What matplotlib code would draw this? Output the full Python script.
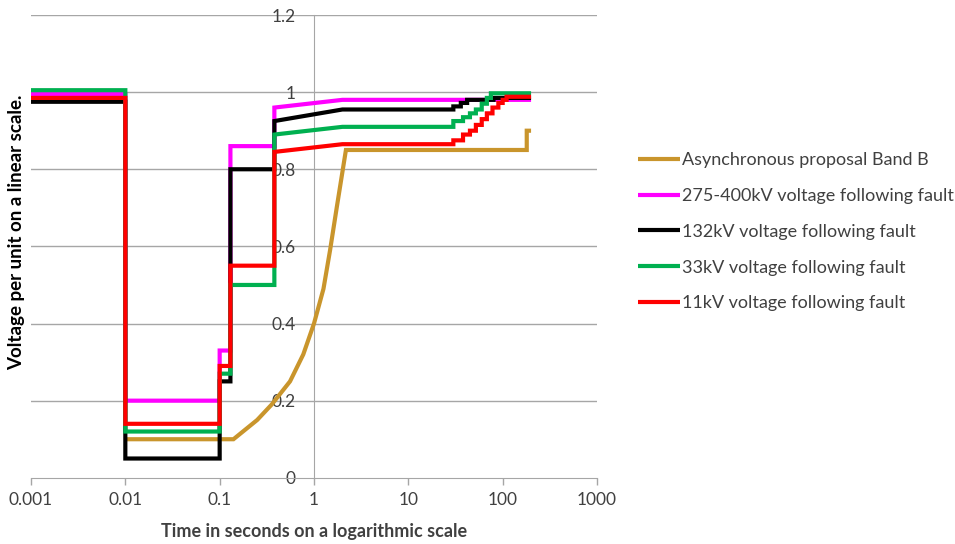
import matplotlib
matplotlib.use("Agg")
import matplotlib.pyplot as plt

plt.rcParams['font.family'] = ['Lato', 'DejaVu Sans']

# ---- data ----
gold_t = [0.01, 0.14, 0.25, 0.356, 0.557, 0.77, 1.0, 1.26, 1.48, 1.74, 2.18, 180, 180, 200]
gold_v = [0.10, 0.10, 0.15, 0.19, 0.25, 0.32, 0.40, 0.49, 0.59, 0.70, 0.85, 0.85, 0.90, 0.90]

mag_t = [0.001, 0.01, 0.01, 0.1, 0.1, 0.13, 0.13, 0.38, 0.38, 2.0, 200]
mag_v = [0.995, 0.995, 0.20, 0.20, 0.33, 0.33, 0.86, 0.86, 0.96, 0.98, 0.98]

blk_t = [0.001, 0.01, 0.01, 0.1, 0.1, 0.13, 0.13, 0.38, 0.38, 2.0, 30, 30, 36, 36, 42, 42, 80, 80, 200]
blk_v = [0.975, 0.975, 0.05, 0.05, 0.25, 0.25, 0.80, 0.80, 0.925, 0.955, 0.955, 0.963, 0.963,
         0.972, 0.972, 0.98, 0.98, 0.985, 0.985]

grn_t = [0.001, 0.01, 0.01, 0.1, 0.1, 0.13, 0.13, 0.38, 0.38, 2.0, 30, 30, 38, 38, 45, 45,
         52, 52, 60, 60, 68, 68, 75, 75, 200]
grn_v = [1.005, 1.005, 0.12, 0.12, 0.27, 0.27, 0.50, 0.50, 0.89, 0.91, 0.91, 0.925, 0.925,
         0.935, 0.935, 0.945, 0.945, 0.955, 0.955, 0.97, 0.97, 0.985, 0.985, 0.997, 0.997]

red_t = [0.001, 0.01, 0.01, 0.1, 0.1, 0.13, 0.13, 0.38, 0.38, 2.0, 30, 30, 38, 38, 45, 45,
         52, 52, 60, 60, 68, 68, 78, 78, 90, 90, 100, 100, 110, 110, 200]
red_v = [0.985, 0.985, 0.14, 0.14, 0.29, 0.29, 0.55, 0.55, 0.845, 0.865, 0.865, 0.875, 0.875,
         0.89, 0.89, 0.90, 0.90, 0.915, 0.915, 0.93, 0.93, 0.945, 0.945, 0.96, 0.96, 0.972,
         0.972, 0.98, 0.98, 0.988, 0.988]

labels = ["Asynchronous proposal Band B",
          "275-400kV voltage following fault",
          "132kV voltage following fault",
          "33kV voltage following fault",
          "11kV voltage following fault"]
colors = ["#C9952C", "#FF00FF", "#000000", "#00B050", "#FF0000"]

x_ticks = [0.001, 0.01, 0.1, 1, 10, 100, 1000]
x_ticklabels = ["0.001", "0.01", "0.1", "1", "10", "100", "1000"]
y_ticks = [0, 0.2, 0.4, 0.6, 0.8, 1.0, 1.2]
y_ticklabels = ["0", "0.2", "0.4", "0.6", "0.8", "1", "1.2"]

# ---- figure ----
fig = plt.figure(figsize=(9.55, 5.44), dpi=100)
ax = fig.add_axes([31 / 955, 1 - 477.8 / 544, (597 - 31) / 955, (477.8 - 15) / 544])

series = [(gold_t, gold_v), (mag_t, mag_v), (blk_t, blk_v), (grn_t, grn_v), (red_t, red_v)]
for (t, v), c, lab in zip(series, colors, labels):
    ax.plot(t, v, color=c, lw=3.0, label=lab, solid_joinstyle='miter', solid_capstyle='butt')

ax.set_xscale('log')
ax.set_xlim(0.001, 1000)
ax.set_ylim(0, 1.2)

grid_c = "#A6A6A6"
txt_c = "#404040"
for yv in y_ticks[1:]:
    ax.axhline(yv, color=grid_c, lw=1.0, zorder=0)

ax.spines['top'].set_visible(False)
ax.spines['right'].set_visible(False)
ax.spines['left'].set_position(('data', 1))
ax.spines['left'].set_color(grid_c)
ax.spines['bottom'].set_color(grid_c)
ax.spines['left'].set_zorder(0)

ax.set_xticks(x_ticks)
ax.set_xticklabels(x_ticklabels)
ax.minorticks_off()
ax.set_yticks(y_ticks)
ax.set_yticklabels(y_ticklabels)
ax.tick_params(axis='x', length=5, width=1, color=grid_c, pad=5, labelsize=12.5, labelcolor=txt_c)
ax.tick_params(axis='y', length=0, pad=13, labelsize=12.5, labelcolor=txt_c)

fig.text(314 / 955, 1 - 531 / 544, "Time in seconds on a logarithmic scale", ha='center', va='center',
         fontsize=13, fontweight='bold', color=txt_c)
fig.text(17 / 955, 1 - 232 / 544, "Voltage per unit on a linear scale.", ha='center', va='center',
         rotation=90, fontsize=13.5, fontweight='bold', color='#000000')

leg = fig.legend(loc='upper left', bbox_to_anchor=(638 / 955, 1 - 152 / 544), frameon=False,
                 fontsize=13, handlelength=2.3, handletextpad=0.15, labelspacing=1.1,
                 borderpad=0, borderaxespad=0)
for t in leg.get_texts():
    t.set_color(txt_c)

fig.savefig("out.png", dpi=100)
